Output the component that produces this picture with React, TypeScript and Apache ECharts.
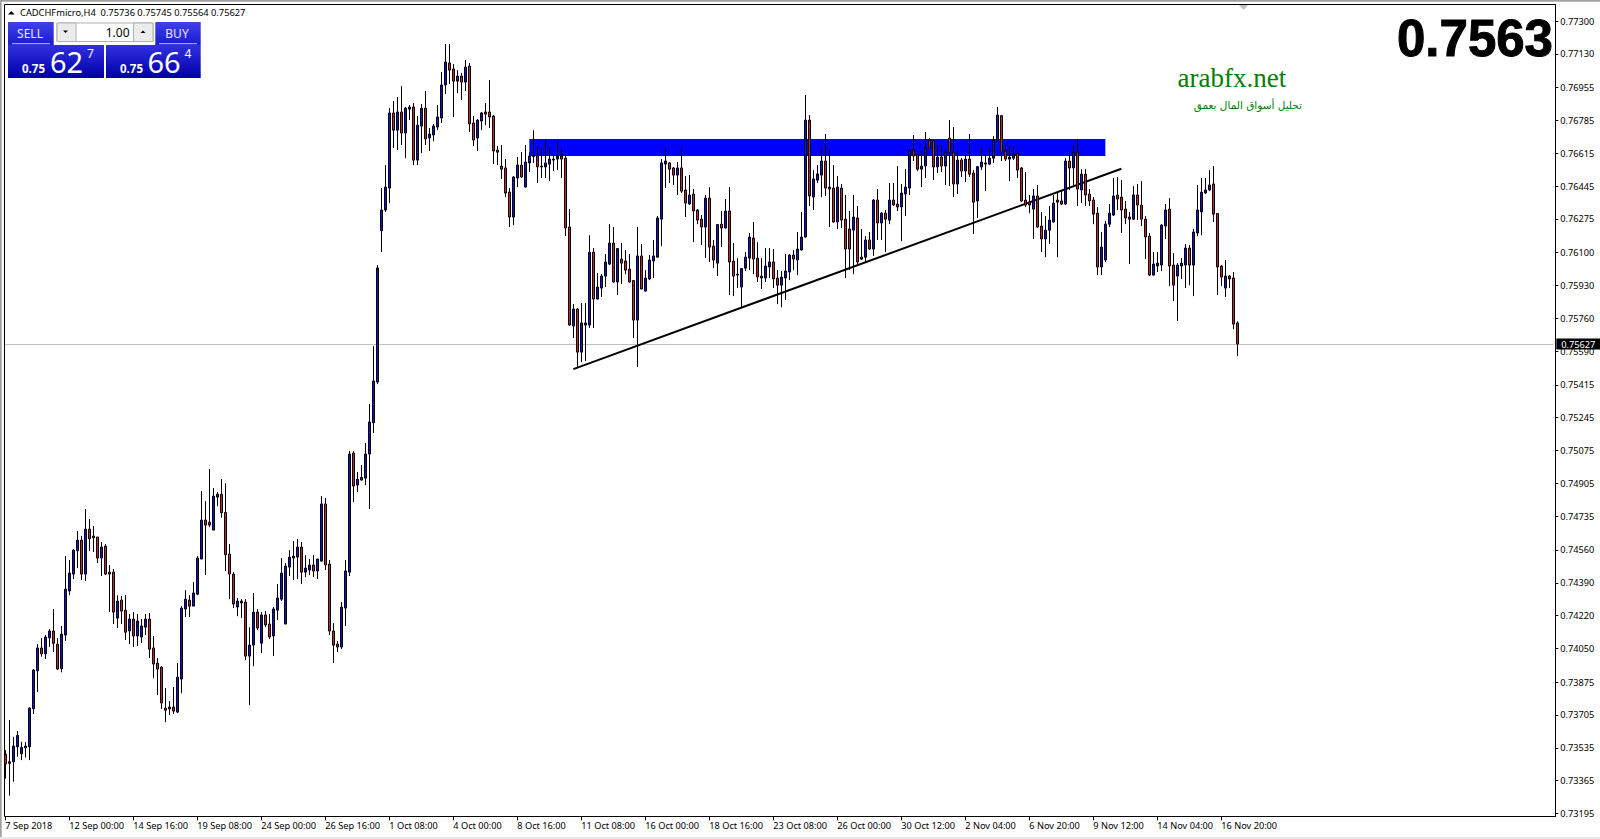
import React, { useEffect, useRef } from "react";
import * as echarts from "echarts";

// Prices in points (1 point = 0.00001).
const opens = [
  73501,73463,73463,73540,73504,73535,73540,73737,73934,74052,
  74022,74105,74140,74072,73945,74119,74347,74435,74556,74611,
  74435,74668,74632,74627,74518,74580,74445,74445,74207,74300,
  74248,74140,74202,74114,74109,74160,74202,74052,73974,73953,
  73741,73746,73746,73720,73891,74254,74300,74269,74331,74513,
  74715,74704,74663,74834,74848,74754,74539,74435,74264,74285,
  74290,74010,74067,74238,74077,74223,74176,74114,74248,74305,
  74176,74471,74518,74523,74575,74445,74456,74482,74451,74502,
  74798,74487,74140,74072,74057,74259,74445,75062,74896,74922,
  74932,75057,75219,75430,76214,76321,76435,76824,76735,76829,
  76720,76844,76855,76580,76756,76849,76694,76710,76751,76798,
  76969,77083,77052,76989,77015,76984,77067,76772,76694,76782,
  76829,76829,76808,76632,76549,76539,76414,76285,76487,76554,
  76440,76565,76598,76601,76549,76544,76559,76580,76585,76601,
  76590,76233,75720,75808,75585,75725,75725,76103,75860,75917,
  75979,76041,76150,75948,76067,76057,76015,75956,75751,76083,
  75901,75964,76057,76077,76274,76559,76565,76539,76502,76539,
  76425,76352,76404,76321,76274,76233,76383,76134,76046,76248,
  76228,76316,76057,75989,75922,76020,76072,76176,76072,75979,
  75969,76026,76052,75969,75932,75969,76000,76088,76062,76114,
  76181,76787,76388,76476,76502,76575,76440,76435,76259,76435,
  76274,76223,76217,76280,76067,76077,76166,76119,76373,76254,
  76305,76269,76373,76352,76337,76404,76435,76632,76608,76533,
  76549,76684,76681,76544,76596,76549,76694,76621,76456,76580,
  76523,76585,76513,76368,76544,76559,76559,76590,76678,76810,
  76627,76585,76590,76616,76539,76373,76362,76326,76394,76238,
  76171,76217,76259,76373,76368,76352,76575,76539,76621,76425,
  76507,76404,76373,76305,76026,76062,76248,76295,76399,76388,
  76326,76285,76274,76399,76347,76274,76186,75984,76031,76036,
  76238,76326,76036,75979,76031,76036,76124,76036,76202,76311,
  76409,76425,76456,76303,76031,75917,75979,75969,75736,
];
const closes = [
  73451,73454,73544,73599,73537,73544,73741,73938,74052,74022,
  74109,74140,74076,73943,74124,74357,74440,74559,74611,74435,
  74668,74618,74623,74518,74575,74435,74435,74238,74295,74243,
  74134,74202,74114,74192,74166,74202,74046,73969,73943,73767,
  73730,73736,73725,73901,74259,74305,74269,74337,74518,74715,
  74689,74689,74839,74849,74753,74535,74435,74280,74295,74295,
  74010,74067,74238,74155,74223,74171,74109,74254,74311,74440,
  74476,74523,74528,74575,74445,74466,74482,74451,74513,74798,
  74482,74140,74067,74057,74264,74451,75057,74891,74926,74936,
  75057,75223,75435,76021,76321,76440,76824,76735,76829,76720,
  76849,76855,76580,76761,76849,76689,76715,76756,76803,76969,
  77088,77046,76989,77015,76984,77062,76767,76684,76787,76824,
  76818,76803,76627,76621,76533,76409,76285,76492,76554,76492,
  76570,76601,76606,76545,76544,76565,76585,76585,76601,76585,
  76228,75725,75808,75585,75736,75736,76103,75860,75922,75979,
  76052,76150,75948,76122,76046,76010,75948,75751,76083,75912,
  75969,76062,76083,76280,76565,76575,76533,76502,76539,76419,
  76357,76399,76316,76269,76233,76383,76129,76062,76246,76228,
  76316,76052,75979,75984,76018,76077,76181,76067,75974,75969,
  76031,76052,75964,75932,75974,76005,76088,76067,76119,76181,
  76787,76394,76482,76508,76575,76435,76430,76259,76440,76269,
  76119,76119,76285,76052,76077,76166,76119,76373,76254,76305,
  76274,76373,76347,76337,76409,76440,76632,76601,76533,76549,
  76642,76642,76544,76596,76549,76621,76621,76456,76580,76523,
  76585,76507,76362,76546,76570,76565,76590,76684,76813,76621,
  76585,76596,76611,76528,76368,76347,76347,76394,76233,76171,
  76217,76269,76357,76362,76352,76575,76539,76621,76430,76507,
  76399,76368,76300,76026,76129,76248,76305,76394,76378,76321,
  76280,76274,76399,76347,76274,76181,75984,76041,76046,76243,
  76321,76031,75932,76036,76046,76124,76036,76207,76321,76414,
  76425,76451,76300,76026,75974,75979,75964,75730,75627,
];
const highs = [
  73523,73679,73592,73622,73566,73565,73744,73943,74072,74103,
  74119,74150,74254,74103,74166,74528,74508,74565,74658,74632,
  74772,74720,74684,74627,74601,74590,74482,74461,74326,74321,
  74326,74228,74238,74228,74202,74228,74233,74114,74000,73958,
  73844,73777,73850,73974,74269,74352,74326,74394,74528,74865,
  74813,74979,74881,74860,74927,74906,74590,74445,74311,74305,
  74305,74160,74337,74254,74238,74243,74228,74264,74383,74518,
  74492,74559,74606,74616,74601,74533,74513,74533,74513,74839,
  74829,74508,74181,74088,74290,74508,75072,75072,74964,75000,
  75114,75316,75616,76036,76435,76554,76849,76886,76906,76963,
  76855,76865,76875,76808,76870,76938,76746,76767,76865,77036,
  77181,77181,77077,77046,77031,77098,77083,76808,76792,76829,
  76875,76995,76813,76653,76658,76585,76435,76497,76596,76621,
  76658,76621,76735,76653,76642,76684,76647,76601,76673,76642,
  76611,76326,75834,75813,75839,75839,76191,76124,75995,75989,
  76093,76248,76233,76124,76150,76114,76093,75958,76233,76145,
  76010,76088,76166,76290,76585,76642,76570,76544,76570,76637,
  76497,76502,76430,76326,76295,76399,76440,76166,76248,76316,
  76378,76440,76150,76072,76020,76103,76202,76259,76155,76072,
  76124,76124,76119,76010,76005,76093,76093,76114,76207,76311,
  76917,76813,76528,76554,76642,76715,76637,76554,76497,76456,
  76399,76316,76399,76342,76223,76186,76207,76378,76430,76311,
  76321,76461,76461,76549,76456,76533,76637,76710,76611,76627,
  76725,76694,76684,76658,76658,76632,76787,76751,76627,76590,
  76606,76715,76528,76549,76642,76611,76642,76704,76855,76813,
  76658,76653,76653,76621,76544,76518,76399,76430,76451,76311,
  76290,76342,76399,76414,76425,76590,76621,76658,76689,76533,
  76533,76430,76388,76337,76207,76264,76352,76487,76492,76476,
  76368,76311,76445,76456,76471,76290,76202,76103,76103,76248,
  76352,76383,76098,76046,76072,76145,76140,76223,76451,76487,
  76487,76528,76549,76305,76036,76062,75984,76000,75745,
];
const lows = [
  73375,73287,73359,73489,73471,73485,73471,73710,73824,74007,
  73995,74058,74031,73938,73926,74088,74326,74409,74466,74404,
  74399,74554,74549,74492,74425,74430,74238,74176,74155,74176,
  74093,74072,74057,74062,74077,74119,74000,73896,73808,73736,
  73668,73704,73710,73715,73818,74212,74212,74269,74326,74513,
  74430,74678,74663,74787,74727,74451,74305,74259,74217,74207,
  73989,73756,73958,74145,74026,74160,74098,74010,74197,74295,
  74176,74425,74404,74409,74383,74419,74430,74419,74409,74502,
  74456,74119,73974,74031,74046,74166,74425,74808,74860,74920,
  74896,74772,75166,75419,76103,76311,76357,76642,76632,76658,
  76590,76787,76554,76554,76616,76658,76627,76678,76735,76772,
  76922,76974,76803,76927,76891,76938,76725,76653,76627,76735,
  76761,76746,76559,76554,76482,76388,76233,76243,76440,76487,
  76438,76518,76565,76461,76487,76487,76471,76523,76528,76487,
  76186,75720,75658,75502,75533,75539,75710,75710,75857,75870,
  75922,76036,75945,75881,75938,75989,75945,75658,75508,75910,
  75899,75958,75969,76075,76134,76435,76461,76451,76399,76409,
  76285,76347,76155,76248,76140,76072,76052,76020,75979,76129,
  76225,75881,75875,75917,75818,76005,76010,75989,75948,75912,
  75948,75969,75917,75834,75818,75855,75958,76010,75984,76111,
  76178,76342,76321,76461,76388,76394,76233,76256,76223,76228,
  75969,76010,75989,76031,76062,76052,76114,76083,76166,76166,
  76103,76248,76342,76316,76160,76290,76399,76575,76523,76440,
  76487,76640,76476,76513,76518,76451,76445,76388,76404,76492,
  76466,76492,76197,76280,76528,76419,76554,76565,76676,76575,
  76575,76471,76580,76487,76362,76337,76305,76171,76230,76103,
  76077,76145,76256,76077,76347,76347,76425,76451,76342,76357,
  76342,76342,76248,75984,75984,76052,76233,76290,76321,76202,
  76248,76041,76269,76269,76238,76067,75979,75982,76000,76005,
  76171,75927,75850,75746,75964,75917,75932,75875,76186,76191,
  76404,76419,76259,75881,75927,75870,75917,75704,75564,
];

const timeLabels = [
  "7 Sep 2018","12 Sep 00:00","14 Sep 16:00","19 Sep 08:00","24 Sep 00:00",
  "26 Sep 16:00","1 Oct 08:00","4 Oct 00:00","8 Oct 16:00","11 Oct 08:00",
  "16 Oct 00:00","18 Oct 16:00","23 Oct 08:00","26 Oct 00:00","30 Oct 12:00",
  "2 Nov 04:00","6 Nov 20:00","9 Nov 12:00","14 Nov 04:00","16 Nov 20:00",
];
const priceTicks = [
  77300,77130,76955,76785,76615,76445,76275,76100,75930,75760,75590,75415,75245,
  75075,74905,74735,74560,74390,74220,74050,73875,73705,73535,73365,73195,
];
const barsPerLabel = 16;
const slotCount = 388;
const priceMin = 73180;
const priceMax = 77386;
const lastPrice = 75627;
const zoneBars = [131, 275];
const zonePrices = [76601, 76689];
const trendBars = [142, 279];
const trendPrices = [75497, 76535];

const UI_FONT = "'Noto Sans', sans-serif";

export default function App() {
  const ref = useRef<HTMLDivElement>(null);
  useEffect(() => {
    document.body.style.margin = "0";
    document.body.style.background = "#fff";
    const chart = echarts.init(ref.current!, null, { renderer: "svg" });
    const pt = (v: number) => v / 100000;
    const categories = Array.from({ length: slotCount }, (_, i) =>
      i % barsPerLabel === 0 && timeLabels[i / barsPerLabel] ? timeLabels[i / barsPerLabel] : ""
    );
    const candles = opens.map((o, i) => [pt(o), pt(closes[i]), pt(lows[i]), pt(highs[i])]);
    const grad = (a: string, b: string) =>
      new echarts.graphic.LinearGradient(0, 0, 0, 1, [
        { offset: 0, color: a },
        { offset: 1, color: b },
      ]);
    const white = "#ffffff";
    const txt = (x: number, y: number, text: string, size: number, fill: string, extra: any = {}) => ({
      type: "text",
      x,
      y,
      z: 50,
      silent: true,
      style: {
        text,
        fill,
        stroke: extra.stroke || "none",
        lineWidth: extra.stroke ? extra.strokeWidth || 1 : 0,
        font: `${extra.weight || "normal"} ${size}px ${extra.family || UI_FONT}`,
        textAlign: extra.align || "left",
        textVerticalAlign: "middle",
      },
    });
    const box = (x: number, y: number, w: number, h: number, fill: any, stroke?: string) => ({
      type: "rect",
      z: 40,
      silent: true,
      shape: { x, y, width: w, height: h },
      style: { fill, stroke: stroke || "none", lineWidth: stroke ? 1 : 0 },
    });
    const line = (x1: number, y1: number, x2: number, y2: number, stroke: string, lineWidth = 1) => ({
      type: "line",
      z: 45,
      silent: true,
      shape: { x1, y1, x2, y2 },
      style: { stroke, lineWidth },
    });
    const tri = (points: number[][], fill: string) => ({
      type: "polygon",
      z: 50,
      silent: true,
      shape: { points },
      style: { fill },
    });

    chart.setOption({
      animation: false,
      backgroundColor: "#ffffff",
      grid: { left: 3.33, width: 1552, top: 4.5, height: 811.8, containLabel: false },
      xAxis: {
        type: "category",
        data: categories,
        boundaryGap: true,
        axisLine: { show: true, lineStyle: { color: "#000", width: 1 } },
        axisTick: {
          show: true,
          alignWithLabel: true,
          length: 4,
          lineStyle: { color: "#000" },
          interval: (_: number, v: string) => v !== "",
        },
        axisLabel: {
          interval: (_: number, v: string) => v !== "",
          align: "left",
          margin: 5,
          color: "#000",
          fontFamily: "Noto Sans",
          fontSize: 9.2,
        },
        splitLine: { show: false },
      },
      yAxis: {
        type: "value",
        position: "right",
        min: pt(priceMin),
        max: pt(priceMax),
        scale: true,
        axisLine: { show: true, lineStyle: { color: "#000", width: 1 } },
        axisTick: { show: true, length: 3, lineStyle: { color: "#000" }, customValues: priceTicks.map(pt) },
        axisLabel: {
          customValues: priceTicks.map(pt),
          formatter: (v: number) => v.toFixed(5),
          margin: 5,
          color: "#000",
          fontFamily: "Noto Sans",
          fontSize: 9.2,
        },
        splitLine: { show: false },
      },
      series: [
        {
          type: "candlestick",
          data: candles,
          barWidth: 2,
          clip: true,
          itemStyle: {
            color: "#1212c8",
            color0: "#c8203c",
            borderColor: "#000",
            borderColor0: "#000",
            borderWidth: 1,
          },
          markArea: {
            silent: true,
            z: 1,
            itemStyle: { color: "#0000ff", opacity: 1 },
            data: [[
              { xAxis: zoneBars[0], yAxis: pt(zonePrices[1]) },
              { xAxis: zoneBars[1], yAxis: pt(zonePrices[0]) },
            ]],
          },
          markLine: {
            silent: true,
            z: 1,
            symbol: "none",
            animation: false,
            data: [
              [
                {
                  coord: [0, pt(lastPrice)],
                  lineStyle: { color: "#c0c0c0", width: 1, type: "solid" },
                  label: {
                    show: true,
                    position: "end",
                    distance: 3,
                    formatter: () => pt(lastPrice).toFixed(5),
                    color: "#fff",
                    backgroundColor: "#000",
                    padding: [1, 5, 1, 5],
                    fontFamily: "Noto Sans",
                    fontSize: 9.2,
                  },
                },
                { coord: [slotCount - 1, pt(lastPrice)] },
              ],
              [
                {
                  coord: [trendBars[0], pt(trendPrices[0])],
                  lineStyle: { color: "#000", width: 2, type: "solid" },
                  label: { show: false },
                },
                { coord: [trendBars[1], pt(trendPrices[1])] },
              ],
            ],
          },
        },
      ],
      graphic: [
        box(0, 0, 4.5, 839, white),
        box(0, 0, 1600, 4, white),
        box(0, 0, 1600, 1.7, "#a0a0a0"),
        box(0, 0, 1.7, 839, "#a0a0a0"),
        box(0, 837, 1600, 2, "#e8e8e8"),
        line(4.5, 4.5, 4.5, 816.5, "#000"),
        line(4.5, 4.5, 1555.5, 4.5, "#000"),
        tri([[1239, 5], [1248, 5], [1243.5, 10]], "#c0c0c0"),

        tri([[8, 14.5], [14.7, 14.5], [11.3, 11]], "#000"),
        txt(20, 12.5, "CADCHFmicro,H4  0.75736 0.75745 0.75564 0.75627", 9.3, "#000"),

        box(8, 22, 45.7, 23, grad("#4040e8", "#1a1ad0")),
        box(155.3, 22, 45.4, 23, grad("#4040e8", "#1a1ad0")),
        box(8, 45, 96, 33, grad("#3030e0", "#0000a8")),
        box(106, 45, 94.7, 33, grad("#3030e0", "#0000a8")),
        line(12, 43.7, 50, 43.7, "#c0c0f0"),
        line(159, 43.7, 197, 43.7, "#c0c0f0"),

        box(57, 23, 96, 18.5, white, "#b0b0b0"),
        box(57, 23, 19, 18.5, "#ececec", "#b0b0b0"),
        box(133.5, 23, 19.5, 18.5, "#ececec", "#b0b0b0"),
        tri([[63, 30.5], [68, 30.5], [65.5, 33]], "#000"),
        tri([[140.5, 33], [145.5, 33], [143, 30.5]], "#000"),
        txt(129.5, 32, "1.00", 12, "#000", { align: "right" }),

        txt(30, 33, "SELL", 12, "#e8e8ff", { align: "center" }),
        txt(177, 33, "BUY", 12, "#e8e8ff", { align: "center" }),
        txt(22, 68, "0.75", 11.5, white, { weight: "bold" }),
        txt(50, 61.5, "62", 29, white),
        txt(87, 53, "7", 12, white),
        txt(120, 68, "0.75", 11.5, white, { weight: "bold" }),
        txt(147.5, 61.5, "66", 29, white),
        txt(184.5, 53, "4", 12, white),

        txt(1553, 38, "0.7563", 51, "#000", { weight: "bold", family: "'Liberation Sans', Arial, sans-serif", align: "right", stroke: "#000", strokeWidth: 1 }),
        txt(1177.5, 78, "arabfx.net", 27, "#008000", { family: "'Liberation Serif', serif" }),
        txt(1302, 104.5, "تحليل أسواق المال بعمق", 10.5, "#008000", { family: "'DejaVu Sans', sans-serif", align: "right" }),
      ],
    });
    return () => chart.dispose();
  }, []);
  return <div ref={ref} style={{ position: "absolute", left: 0, top: 0, width: 1600, height: 839 }} />;
}
